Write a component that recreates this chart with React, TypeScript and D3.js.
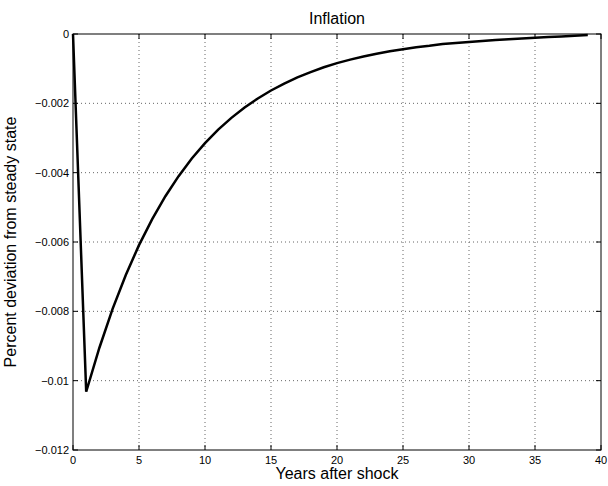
import React from "react";
import * as d3 from "d3";

const years: number[] = [
  0, 1, 2, 3, 4, 5, 6, 7, 8, 9, 10, 11, 12, 13, 14, 15, 16, 17, 18, 19,
  20, 21, 22, 23, 24, 25, 26, 27, 28, 29, 30, 31, 32, 33, 34, 35, 36, 37, 38, 39,
];
const inflation: number[] = [
  0, -0.01032, -0.00905, -0.00793, -0.00695, -0.00609, -0.00534, -0.00468,
  -0.0041, -0.00359, -0.00315, -0.00276, -0.00242, -0.00212, -0.00186,
  -0.00163, -0.00143, -0.00125, -0.0011, -0.00096, -0.00084, -0.00074,
  -0.00065, -0.00057, -0.0005, -0.00044, -0.00038, -0.00034, -0.00029,
  -0.00026, -0.00023, -0.0002, -0.00017, -0.00015, -0.00013, -0.00011,
  -0.00009, -0.00007, -0.00005, -0.00003,
];
const xTicks: number[] = [0, 5, 10, 15, 20, 25, 30, 35, 40];
const yTicks: number[] = [0, -0.002, -0.004, -0.006, -0.008, -0.01, -0.012];
const yTickLabels: string[] = ["0", "\u22120.002", "\u22120.004", "\u22120.006", "\u22120.008", "\u22120.01", "\u22120.012"];

const title = "Inflation";
const xLabel = "Years after shock";
const yLabel = "Percent deviation from steady state";

const W = 608;
const H = 486;
const L = 73;
const R = 601;
const T = 34;
const B = 450;
const FONT = "'Liberation Sans', Arial, Helvetica, sans-serif";

export default function App() {
  const x = d3.scaleLinear().domain([0, 40]).range([L, R]);
  const y = d3.scaleLinear().domain([-0.012, 0]).range([B, T]);
  const line = d3
    .line<number>()
    .x((_, i) => x(years[i]))
    .y((d) => y(d));
  const path = line(inflation) || "";
  const tickLen = 5;

  return (
    <svg
      width={W}
      height={H}
      style={{ position: "absolute", left: 0, top: 0, background: "#fff" }}
      fontFamily={FONT}
    >
      <rect x={0} y={0} width={W} height={H} fill="#fff" />
      {xTicks.slice(1, -1).map((t) => (
        <line
          key={"gx" + t}
          x1={x(t)}
          x2={x(t)}
          y1={T}
          y2={B}
          stroke="#666"
          strokeWidth={1}
          strokeDasharray="1,3"
        />
      ))}
      {yTicks.slice(1, -1).map((t) => (
        <line
          key={"gy" + t}
          x1={L}
          x2={R}
          y1={y(t)}
          y2={y(t)}
          stroke="#666"
          strokeWidth={1}
          strokeDasharray="1,3"
        />
      ))}
      {xTicks.map((t) => (
        <g key={"tx" + t}>
          <line x1={x(t)} x2={x(t)} y1={B} y2={B - tickLen} stroke="#000" />
          <line x1={x(t)} x2={x(t)} y1={T} y2={T + tickLen} stroke="#000" />
          <text x={x(t)} y={464} textAnchor="middle" fontSize={11} fill="#000">
            {t}
          </text>
        </g>
      ))}
      {yTicks.map((t, i) => (
        <g key={"ty" + t}>
          <line x1={L} x2={L + tickLen} y1={y(t)} y2={y(t)} stroke="#000" />
          <line x1={R} x2={R - tickLen} y1={y(t)} y2={y(t)} stroke="#000" />
          <text x={69} y={y(t) + 4} textAnchor="end" fontSize={11} fill="#000">
            {yTickLabels[i]}
          </text>
        </g>
      ))}
      <path d={path} fill="none" stroke="#000" strokeWidth={2.5} strokeLinejoin="miter" />
      <rect x={L} y={T} width={R - L} height={B - T} fill="none" stroke="#000" strokeWidth={1} />
      <text x={(L + R) / 2} y={24} textAnchor="middle" fontSize={16} fill="#000">
        {title}
      </text>
      <text x={(L + R) / 2} y={479} textAnchor="middle" fontSize={16} fill="#000">
        {xLabel}
      </text>
      <text
        transform={`translate(${16},${(T + B) / 2}) rotate(-90)`}
        textAnchor="middle"
        fontSize={16}
        fill="#000"
      >
        {yLabel}
      </text>
    </svg>
  );
}
